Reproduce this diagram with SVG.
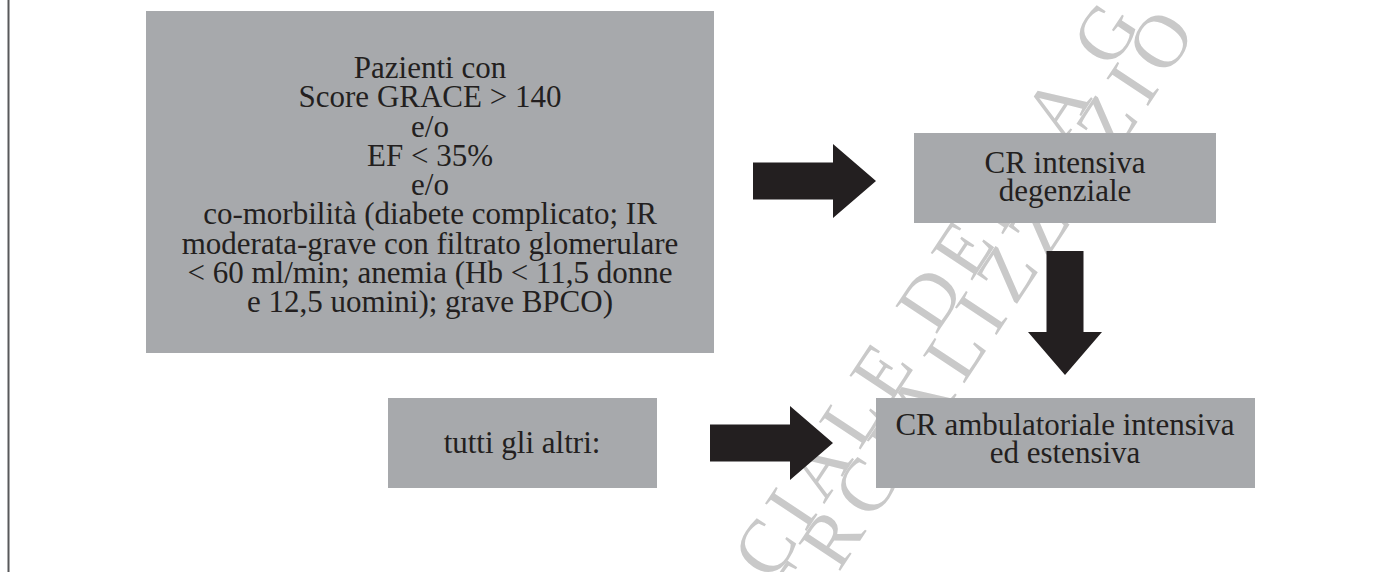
<svg xmlns="http://www.w3.org/2000/svg" width="1381" height="572" viewBox="0 0 1381 572">
<style>
.box{fill:#a7a9ac}
.t{font-family:"Liberation Serif","Times New Roman",serif;font-size:31px;fill:#231f20;text-anchor:middle}
.arr{fill:#231f20}
.wm{font-family:"Liberation Serif","Times New Roman",serif;font-size:76px;fill:#c9c9c9}
</style>
<rect width="1381" height="572" fill="#ffffff"/>
<line x1="8.5" y1="0" x2="8.5" y2="572" stroke="#58595b" stroke-width="2"/>
<g id="watermark">
<text class="wm" letter-spacing="9" transform="translate(772,583) rotate(-56.5)">CIALE DELLA G</text>
<text class="wm" letter-spacing="11" transform="translate(807,621) rotate(-56.5)">ERCIALIZZAZIO</text>
</g>
<g id="node-pazienti">
<rect class="box" x="146" y="11" width="568" height="342"/>
<text class="t" x="430" y="78">Pazienti con</text>
<text class="t" x="430" y="107">Score GRACE &gt; 140</text>
<text class="t" x="430" y="137">e/o</text>
<text class="t" x="430" y="166">EF &lt; 35%</text>
<text class="t" x="430" y="195">e/o</text>
<text class="t" x="430" y="224">co-morbilità (diabete complicato; IR</text>
<text class="t" x="430" y="254">moderata-grave con filtrato glomerulare</text>
<text class="t" x="430" y="283">&lt; 60 ml/min; anemia (Hb &lt; 11,5 donne</text>
<text class="t" x="430" y="312">e 12,5 uomini); grave BPCO)</text>
</g>
<g id="node-intensiva">
<rect class="box" x="914" y="133" width="302" height="90"/>
<text class="t" x="1065" y="173">CR intensiva</text>
<text class="t" x="1065" y="201">degenziale</text>
</g>
<g id="node-tutti">
<rect class="box" x="388" y="398" width="269" height="90"/>
<text class="t" x="522" y="453">tutti gli altri:</text>
</g>
<g id="node-ambulatoriale">
<rect class="box" x="876" y="398" width="379" height="90"/>
<text class="t" x="1065" y="435">CR ambulatoriale intensiva</text>
<text class="t" x="1065" y="463">ed estensiva</text>
</g>
<g id="connectors">
<polygon class="arr" points="753,162.5 833,162.5 833,144 876,181 833,218 833,199.5 753,199.5"/>
<polygon class="arr" points="1046.5,251 1083.5,251 1083.5,332 1102,332 1065,375 1028,332 1046.5,332"/>
<polygon class="arr" points="710,424.5 790,424.5 790,406 833,443 790,480 790,461.5 710,461.5"/>
</g>
</svg>
